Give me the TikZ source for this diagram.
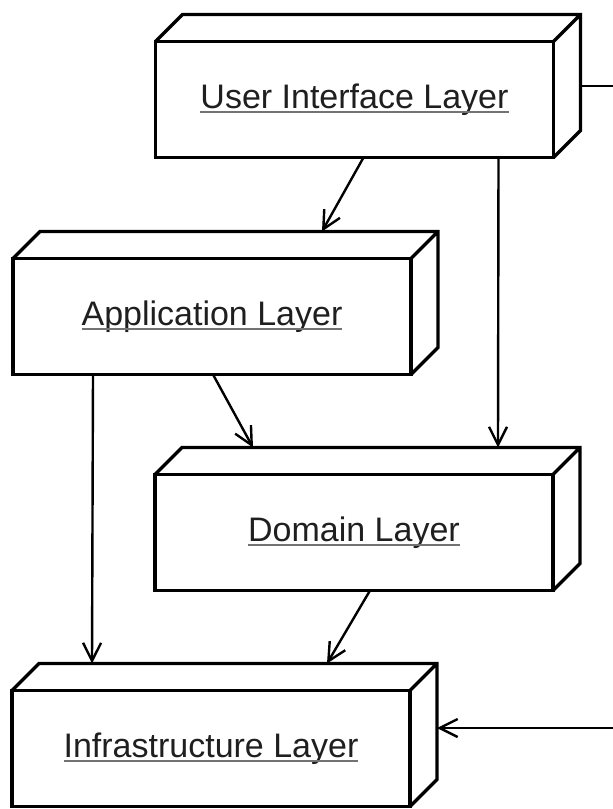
\documentclass[tikz,border=0pt]{standalone}
\usepackage{fontspec}
\setmainfont{Liberation Sans}
\usetikzlibrary{arrows.meta,calc}
\newcommand\uln[1]{\setbox0=\hbox{#1}\leavevmode\rlap{\copy0}{\color{black!55}\rule[-4.5pt]{\wd0}{1.8pt}}}
\tikzset{
  layer/.style={draw, line width=3.3pt, outer sep=0pt, inner sep=0pt,
    minimum width=398pt, minimum height=116pt, fill=white,
    font=\fontsize{34}{38}\selectfont, text=black!88},
  depth/.style={line width=3.3pt},
  arr/.style={line width=2.4pt, -{Straight Barb[length=18pt,width=18pt,line width=2.4pt]}}
}
\newcommand\threed[1]{%
  \draw[depth] (#1.north west) -- ++(27,-27) -| ($(#1.south east)+(27,-27)$) -- (#1.south east)
    (#1.north east) -- ++(27,-27);}
\begin{document}
\begin{tikzpicture}[x=1pt,y=-1pt]
\useasboundingbox (0,0) rectangle (613,809);
\clip (0,0) rectangle (613,809);
\fill[white] (0,0) rectangle (613,809);
\node[layer] (ui) at (354.5,99.5) {\uln{User Interface Layer}};
\node[layer] (app) at (212,316.5) {\uln{Application Layer}};
\node[layer] (dom) at (354,532.5) {\uln{Domain Layer}};
\node[layer] (infra) at (211,748.5) {\uln{Infrastructure Layer}};
\threed{ui}
\threed{app}
\threed{dom}
\threed{infra}
\draw[arr] ($(ui.south west)+(208,0)$) -- ($(app.north west)+(309,-27)$);
\draw[arr] ($(ui.south west)+(343,0)$) -- ($(dom.north west)+(343,-27)$);
\draw[arr] ($(app.south west)+(200,0)$) -- ($(dom.north west)+(98,-27)$);
\draw[arr] ($(app.south west)+(80,0)$) -- ($(infra.north west)+(80,-27)$);
\draw[arr] ($(dom.south west)+(215,0)$) -- ($(infra.north west)+(315,-27)$);
\draw[arr] ($(ui.east)+(27,-13.5)$) -- ++(60,0) |- ($(infra.east)+(27,-20.5)$);
\end{tikzpicture}
\end{document}
